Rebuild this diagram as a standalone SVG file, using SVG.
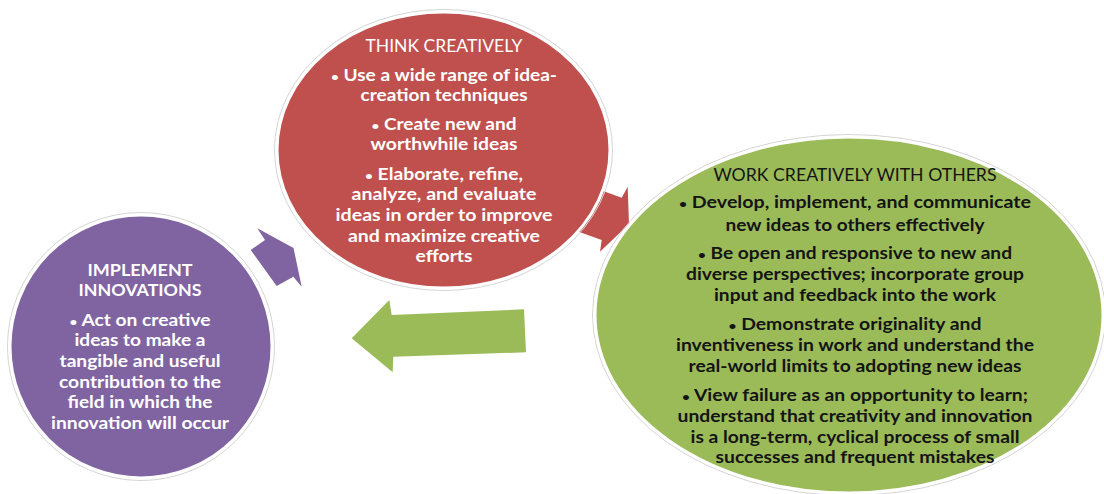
<svg xmlns="http://www.w3.org/2000/svg" width="1104" height="494" viewBox="0 0 1104 494">
<style>
.halo{fill:none;stroke:#d4d4d4;stroke-width:1}
.rim{stroke:#ffffff;stroke-width:3}
text{font-family:Lato,"Liberation Sans",sans-serif;font-size:17px;text-anchor:middle}
.b{font-weight:bold}
.w{fill:#ffffff}
.k{fill:#141414}
.d{font-size:12px}
</style>
<rect width="1104" height="494" fill="#ffffff"/>
<g id="connectors">
<polygon id="arrow-purple" fill="#8064A2" points="257.3,228.3 293.5,248 301.7,286.7 293.3,276.7 276.7,286 250.7,250 265,240"/>
<polygon id="arrow-red" fill="#C0504D" points="584,184 621.7,197.7 627.7,186.7 629,224 600,251.7 601.7,240 564,226.4"/>
<polygon id="arrow-green" fill="#9BBB59" points="351.7,338.3 389.3,300 391.7,315 524,309.3 526,352.3 393.3,356.7 392.7,372.3"/>
</g>
<g id="node-think">
<ellipse class="halo" cx="443.5" cy="150" rx="169" ry="140.5"/>
<ellipse class="rim" fill="#C0504D" cx="443.5" cy="150" rx="166.5" ry="138"/>
<g class="w">
<text x="444" y="51.7" textLength="157" lengthAdjust="spacingAndGlyphs">THINK CREATIVELY</text>
<text class="b" x="444" y="81" textLength="226" lengthAdjust="spacingAndGlyphs"><tspan class="d">•</tspan> Use a wide range of idea-</text>
<text class="b" x="444" y="100.7" textLength="167" lengthAdjust="spacingAndGlyphs">creation techniques</text>
<text class="b" x="444" y="130" textLength="145" lengthAdjust="spacingAndGlyphs"><tspan class="d">•</tspan> Create new and</text>
<text class="b" x="444" y="150" textLength="147" lengthAdjust="spacingAndGlyphs">worthwhile ideas</text>
<text class="b" x="444" y="180" textLength="158" lengthAdjust="spacingAndGlyphs"><tspan class="d">•</tspan> Elaborate, refine,</text>
<text class="b" x="444" y="200" textLength="185" lengthAdjust="spacingAndGlyphs">analyze, and evaluate</text>
<text class="b" x="444" y="220.7" textLength="217" lengthAdjust="spacingAndGlyphs">ideas in order to improve</text>
<text class="b" x="444" y="241.7" textLength="192" lengthAdjust="spacingAndGlyphs">and maximize creative</text>
<text class="b" x="444" y="261.7" textLength="57" lengthAdjust="spacingAndGlyphs">efforts</text>
</g>
</g>
<g id="node-work">
<ellipse class="halo" cx="849" cy="315" rx="256.5" ry="180.5"/>
<ellipse class="rim" fill="#9BBB59" cx="849" cy="315" rx="254" ry="178"/>
<g class="k">
<text x="855" y="180.7" textLength="283" lengthAdjust="spacingAndGlyphs">WORK CREATIVELY WITH OTHERS</text>
<text class="b" x="855" y="208.3" textLength="352" lengthAdjust="spacingAndGlyphs"><tspan class="d">•</tspan> Develop, implement, and communicate</text>
<text class="b" x="855" y="230.7" textLength="259" lengthAdjust="spacingAndGlyphs">new ideas to others effectively</text>
<text class="b" x="855" y="259.3" textLength="314" lengthAdjust="spacingAndGlyphs"><tspan class="d">•</tspan> Be open and responsive to new and</text>
<text class="b" x="855" y="280" textLength="338" lengthAdjust="spacingAndGlyphs">diverse perspectives; incorporate group</text>
<text class="b" x="855" y="301" textLength="282" lengthAdjust="spacingAndGlyphs">input and feedback into the work</text>
<text class="b" x="855" y="330" textLength="253" lengthAdjust="spacingAndGlyphs"><tspan class="d">•</tspan> Demonstrate originality and</text>
<text class="b" x="855" y="351" textLength="358" lengthAdjust="spacingAndGlyphs">inventiveness in work and understand the</text>
<text class="b" x="855" y="372.3" textLength="333" lengthAdjust="spacingAndGlyphs">real-world limits to adopting new ideas</text>
<text class="b" x="855" y="401" textLength="346" lengthAdjust="spacingAndGlyphs"><tspan class="d">•</tspan> View failure as an opportunity to learn;</text>
<text class="b" x="855" y="421.7" textLength="355" lengthAdjust="spacingAndGlyphs">understand that creativity and innovation</text>
<text class="b" x="855" y="442.7" textLength="329" lengthAdjust="spacingAndGlyphs">is a long-term, cyclical process of small</text>
<text class="b" x="855" y="463.3" textLength="279" lengthAdjust="spacingAndGlyphs">successes and frequent mistakes</text>
</g>
</g>
<g id="node-implement">
<ellipse class="halo" cx="141" cy="346.5" rx="133.5" ry="134"/>
<ellipse class="rim" fill="#8064A2" cx="141" cy="346.5" rx="131" ry="131.5"/>
<g class="w b">
<text x="140" y="275.7" textLength="105" lengthAdjust="spacingAndGlyphs">IMPLEMENT</text>
<text x="140" y="296" textLength="123" lengthAdjust="spacingAndGlyphs">INNOVATIONS</text>
<text x="140" y="325.7" textLength="141" lengthAdjust="spacingAndGlyphs"><tspan class="d">•</tspan> Act on creative</text>
<text x="140" y="346" textLength="131" lengthAdjust="spacingAndGlyphs">ideas to make a</text>
<text x="140" y="366.7" textLength="161" lengthAdjust="spacingAndGlyphs">tangible and useful</text>
<text x="140" y="387.7" textLength="162" lengthAdjust="spacingAndGlyphs">contribution to the</text>
<text x="140" y="408.3" textLength="145" lengthAdjust="spacingAndGlyphs">field in which the</text>
<text x="140" y="429" textLength="178" lengthAdjust="spacingAndGlyphs">innovation will occur</text>
</g>
</g>
</svg>
